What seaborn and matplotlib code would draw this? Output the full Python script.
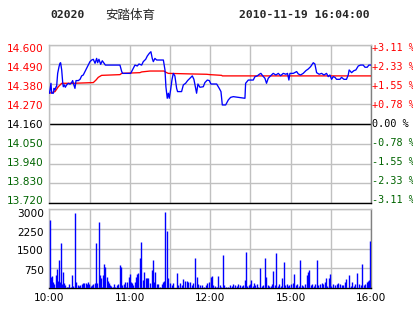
import matplotlib
matplotlib.use("Agg")
import matplotlib.pyplot as plt
import matplotlib.transforms as mtransforms
import seaborn as sns
import pandas as pd

sns.set_theme(style="white")
plt.rcParams['font.family'] = ['DejaVu Sans']

# ---------------- data ----------------
stock_code = "02020"
stock_name = "安踏体育"
timestamp = "2010-11-19 16:04:00"
prev_close = 14.16

price_ticks = [14.600, 14.490, 14.380, 14.270, 14.160, 14.050, 13.940, 13.830, 13.720]
pct_labels = ["+3.11 %", "+2.33 %", "+1.55 %", "+0.78 %", "0.00 %",
              "-0.78 %", "-1.55 %", "-2.33 %", "-3.11 %"]
time_labels = ["10:00", "11:00", "12:00", "15:00", "16:00"]
time_label_pos = [0, 60, 120, 180, 240]
vol_ticks = [750, 1500, 2250, 3000]

# price line (minute index, price)
price_min = [0, 1.1, 1.6, 2.9, 3.4, 4.1, 4.9, 5.3, 6.1, 7.1, 7.8, 8.3, 9.1, 9.8, 10.3,
             11.1, 11.8, 12.8, 14.1, 15.3, 16.5, 17.3, 17.8, 19.0, 19.8, 21.5, 22.8,
             24.0, 25.2, 26.5, 27.7, 29.0, 30.2, 31.5, 32.7, 34.0, 35.2, 35.9, 36.9,
             38.2, 39.4, 40.7, 41.7, 52.6, 53.9, 54.6, 60.6, 62.1, 63.8, 65.5, 66.8,
             68.8, 70.0, 71.8, 73.0, 74.5, 75.7, 76.7, 77.5, 78.7, 80.0, 85.0, 86.2,
             86.9, 87.9, 88.7, 89.4, 90.4, 91.4, 92.4, 93.6, 94.9, 95.6, 98.6, 99.9,
             101.6, 103.1, 104.8, 106.6, 107.8, 109.1, 109.8, 110.8, 112.3, 114.8,
             116.0, 117.8, 119.3, 120.5, 124.8, 126.7, 128.0, 129.0, 131.5, 133.5,
             135.2, 137.2, 145.9, 146.4, 148.4, 152.1, 153.4, 155.1, 156.6, 157.8,
             159.1, 160.8, 162.0, 163.3, 165.0, 167.0, 169.0, 170.8, 172.5, 174.5,
             176.5, 177.7, 178.7, 179.5, 182.0, 184.5, 185.7, 187.4, 189.4, 191.4,
             193.1, 194.9, 196.9, 198.1, 199.4, 201.3, 203.1, 204.9, 206.8, 208.1,
             209.3, 210.6, 211.8, 213.1, 214.3, 216.8, 218.0, 219.8, 221.7, 223.0,
             223.7, 225.5, 227.2, 228.7, 230.5, 232.2, 234.2, 235.5, 237.2, 238.4, 240]
price_val = [14.330, 14.385, 14.330, 14.330, 14.357, 14.348, 14.366, 14.366, 14.440,
             14.477, 14.496, 14.499, 14.459, 14.394, 14.366, 14.376, 14.363, 14.376,
             14.385, 14.380, 14.389, 14.400, 14.385, 14.357, 14.400, 14.400, 14.407,
             14.426, 14.431, 14.450, 14.468, 14.486, 14.505, 14.514, 14.518, 14.496,
             14.523, 14.499, 14.518, 14.490, 14.510, 14.496, 14.486, 14.486, 14.450,
             14.440, 14.440, 14.462, 14.486, 14.481, 14.492, 14.486, 14.505, 14.518,
             14.536, 14.551, 14.560, 14.523, 14.505, 14.523, 14.514, 14.514, 14.459,
             14.366, 14.302, 14.330, 14.302, 14.348, 14.403, 14.440, 14.426, 14.357,
             14.339, 14.339, 14.376, 14.385, 14.400, 14.413, 14.426, 14.407, 14.357,
             14.330, 14.381, 14.363, 14.366, 14.389, 14.403, 14.400, 14.381, 14.381,
             14.357, 14.339, 14.265, 14.265, 14.293, 14.307, 14.311, 14.302, 14.385,
             14.403, 14.403, 14.422, 14.426, 14.435, 14.440, 14.427, 14.413, 14.385,
             14.413, 14.426, 14.440, 14.431, 14.440, 14.427, 14.440, 14.435, 14.440,
             14.403, 14.440, 14.440, 14.450, 14.437, 14.431, 14.440, 14.455, 14.464,
             14.477, 14.499, 14.492, 14.444, 14.435, 14.440, 14.431, 14.440, 14.422,
             14.431, 14.407, 14.422, 14.418, 14.407, 14.407, 14.418, 14.407, 14.407,
             14.431, 14.459, 14.444, 14.455, 14.459, 14.481, 14.486, 14.486, 14.474,
             14.474, 14.486, 14.486]

# average price line (minute index, price)
avg_min = [0, 4.1, 6.6, 9.1, 17.8, 32.7, 34.7, 36.4, 38.9, 52.6, 53.9, 67.5, 68.8,
           75.0, 85.4, 86.9, 88.7, 104.8, 117.3, 119.8, 128.5, 129.0, 240]
avg_val = [14.330, 14.339, 14.366, 14.385, 14.385, 14.389, 14.403, 14.418, 14.429,
           14.433, 14.440, 14.444, 14.448, 14.453, 14.453, 14.446, 14.440, 14.437,
           14.435, 14.433, 14.429, 14.426, 14.426]

# volume bars (minute index, volume)
vol_min = [0.4, 1.1, 1.9, 2.6, 3.6, 4.9, 5.6, 6.6, 7.3, 8.1, 8.8, 9.6, 10.3, 11.1, 11.8,
           12.8, 13.8, 14.8, 16.0, 17.0, 17.8, 19.3, 20.0, 21.0, 22.0, 23.0, 24.0, 25.0,
           26.0, 27.0, 28.0, 29.0, 29.7, 30.7, 31.7, 32.7, 34.0, 34.9, 35.7, 36.7, 37.4,
           38.2, 39.2, 40.2, 40.9, 41.7, 42.7, 43.4, 44.4, 45.2, 46.1, 47.1, 48.1, 49.1,
           50.1, 51.4, 52.6, 53.4, 54.4, 55.4, 56.1, 57.1, 58.1, 59.1, 59.8, 60.8, 61.5,
           62.6, 63.6, 64.6, 65.5, 66.3, 67.8, 68.5, 69.5, 70.5, 71.8, 72.8, 73.5, 75.0,
           76.2, 77.0, 78.0, 79.0, 80.0, 81.0, 82.5, 83.7, 84.9, 85.7, 86.4, 87.7, 88.7,
           89.9, 91.2, 92.4, 94.9, 96.1, 97.4, 98.6, 99.9, 101.1, 102.4, 103.6, 104.9,
           106.1, 107.3, 108.8, 109.8, 111.1, 112.3, 113.6, 115.3, 116.8, 117.8, 118.8,
           120.3, 121.3, 122.2, 123.5, 124.7, 126.0, 127.2, 128.2, 129.2, 130.2, 131.7,
           133.5, 134.7, 135.9, 137.2, 138.4, 139.7, 140.9, 142.2, 143.4, 144.6, 145.9,
           146.4, 147.6, 148.7, 149.6, 150.6, 151.6, 152.6, 153.6, 154.6, 155.9, 157.3,
           158.6, 159.6, 160.6, 161.8, 162.8, 163.8, 165.1, 166.3, 167.0, 168.3, 169.3,
           170.3, 171.5, 172.5, 173.8, 175.0, 176.0, 177.0, 178.0, 179.0, 180.2, 181.5,
           182.5, 183.7, 185.0, 186.2, 187.2, 188.4, 189.4, 190.6, 191.9, 192.9, 193.9,
           194.9, 196.1, 197.4, 198.4, 199.6, 200.6, 201.8, 203.1, 204.3, 205.6, 206.6,
           207.5, 208.6, 209.3, 210.5, 211.8, 213.0, 214.3, 215.5, 216.8, 218.0, 219.2,
           220.5, 221.7, 223.7, 224.7, 225.9, 227.2, 228.2, 229.8, 231.0, 232.2, 233.5,
           234.7, 235.8, 236.8, 238.0, 238.8, 239.4]
vol_val = [2585, 442, 467, 252, 151, 504, 731, 277, 1072, 227, 1702, 151, 605, 189, 126,
           63, 63, 151, 63, 504, 101, 2837, 227, 126, 101, 126, 151, 189, 202, 189, 177,
           252, 177, 101, 126, 151, 189, 1702, 189, 2490, 504, 403, 63, 504, 908, 820,
           441, 277, 189, 126, 101, 63, 151, 63, 126, 151, 882, 820, 126, 151, 252, 63,
           227, 441, 542, 227, 189, 126, 227, 441, 542, 567, 1160, 1765, 315, 630, 378,
           403, 403, 189, 694, 1072, 252, 630, 151, 151, 63, 151, 252, 277, 2900, 2170,
           378, 189, 126, 189, 567, 126, 189, 126, 353, 277, 277, 252, 227, 126, 189,
           1135, 441, 151, 126, 126, 63, 126, 189, 227, 441, 479, 126, 101, 63, 479, 126,
           63, 1261, 126, 63, 63, 126, 101, 151, 126, 101, 151, 126, 89, 126, 315, 1387,
           101, 126, 151, 315, 101, 189, 126, 151, 63, 757, 101, 126, 1160, 441, 126, 101,
           101, 151, 656, 126, 1324, 101, 151, 101, 403, 984, 126, 151, 101, 126, 151,
           189, 530, 126, 151, 101, 1072, 126, 101, 151, 504, 630, 694, 126, 151, 101,
           151, 1072, 126, 151, 189, 151, 227, 403, 101, 403, 530, 101, 151, 126, 151,
           189, 151, 126, 126, 227, 353, 504, 101, 252, 101, 151, 567, 151, 126, 908, 126,
           151, 252, 277, 315, 1790]

price_df = pd.DataFrame({"minute": price_min, "price": price_val})
avg_df = pd.DataFrame({"minute": avg_min, "price": avg_val})

# ---------------- figure ----------------
W, H = 414, 314
fig = plt.figure(figsize=(W / 100, H / 100), dpi=100)
fig.patch.set_facecolor("white")

L = 49.5 / W
R = 371 / W
P_TOP, P_BOT = 44.5, 203.3
V_TOP, V_BOT = 209.0, 288.3
ax = fig.add_axes([L, (H - P_BOT) / H, R - L, (P_BOT - P_TOP) / H])
axv = fig.add_axes([L, (H - V_BOT) / H, R - L, (V_BOT - V_TOP) / H])

grid_c = "#c0c0c0"
red = "#ff0000"
green = "#006400"
blue = "#0000ff"

for a in (ax, axv):
    a.set_facecolor("white")
    a.set_xlim(0, 240)
    a.set_xticks(range(0, 241, 30))
    a.grid(True, color=grid_c, linewidth=1.0)
    a.tick_params(axis="both", length=0)
    for s in ("left", "top"):
        a.spines[s].set_color(grid_c)
        a.spines[s].set_linewidth(1.0)
    a.spines["right"].set_color("#808080")
    a.spines["right"].set_linewidth(1.0)
    a.spines["bottom"].set_color("black")
    a.spines["bottom"].set_linewidth(1.0)

# --- price panel ---
ax.set_ylim(13.72, 14.60)
ax.set_yticks(price_ticks)
ax.set_yticklabels([f"{v:.3f}" for v in price_ticks], fontsize=7.6)
ax.tick_params(axis="y", pad=4)
ax.set_xticklabels([])


def price_color(v):
    if v > prev_close + 1e-9:
        return red
    if v < prev_close - 1e-9:
        return green
    return "black"


# labels are packed slightly inside the panel, as in the reference
n = len(price_ticks)
grid_step = (P_BOT - P_TOP) / (n - 1)
lab_top, lab_bot = 47.7, 199.8
lab_step = (lab_bot - lab_top) / (n - 1)
price_offsets = [(lab_top + i * lab_step) - (P_TOP + i * grid_step) for i in range(n)]

for lbl, v, o in zip(ax.get_yticklabels(), price_ticks, price_offsets):
    lbl.set_color(price_color(v))
    lbl.set_transform(lbl.get_transform() +
                      mtransforms.ScaledTranslation(0, -o / 100, fig.dpi_scale_trans))

ax.axhline(prev_close, color="black", linewidth=1.0, zorder=2)

sns.lineplot(data=avg_df, x="minute", y="price", ax=ax, color=red,
             linewidth=0.95, estimator=None, sort=False, zorder=3)
sns.lineplot(data=price_df, x="minute", y="price", ax=ax, color=blue,
             linewidth=0.95, estimator=None, sort=False, zorder=4)
ax.set_xlabel("")
ax.set_ylabel("")

ytr = ax.get_yaxis_transform()
for v, t, o in zip(price_ticks, pct_labels, price_offsets):
    tr = ytr + mtransforms.ScaledTranslation(0, -o / 100, fig.dpi_scale_trans)
    ax.text(1.003, v, t, transform=tr, ha="left", va="center", color=price_color(v),
            fontsize=7.3, family="DejaVu Sans Mono")

# --- volume panel ---
axv.set_ylim(0, 3000)
axv.set_yticks(vol_ticks)
axv.set_yticklabels([str(v) for v in vol_ticks], fontsize=7.6, color="black")
axv.tick_params(axis="y", pad=4)
vol_offsets = [1.5, 1.5, 3.0, 4.2]
for lbl, o in zip(axv.get_yticklabels(), vol_offsets):
    lbl.set_transform(lbl.get_transform() +
                      mtransforms.ScaledTranslation(0, -o / 100, fig.dpi_scale_trans))

axv.vlines(vol_min, 0, vol_val, colors=blue, linewidth=1.0, zorder=3)
axv.set_xticklabels(["" for _ in range(9)])
xtr = axv.get_xaxis_transform()
for p, t in zip(time_label_pos, time_labels):
    axv.text(p, -0.06, t, transform=xtr, ha="center", va="top",
             fontsize=7.6, color="black")

# --- header ---
fig.text(50 / W, 1 - 15.5 / H, stock_code, ha="left", va="center",
         fontsize=8.2, fontweight="bold", family="DejaVu Sans Mono")
fig.text(105 / W, 1 - 15.5 / H, stock_name, ha="left", va="center",
         fontsize=9, family=["Noto Sans CJK SC", "DejaVu Sans"])
fig.text(370 / W, 1 - 15.5 / H, timestamp, ha="right", va="center",
         fontsize=8.2, fontweight="bold", family="DejaVu Sans Mono")

fig.savefig("out.png", dpi=100, facecolor="white")
